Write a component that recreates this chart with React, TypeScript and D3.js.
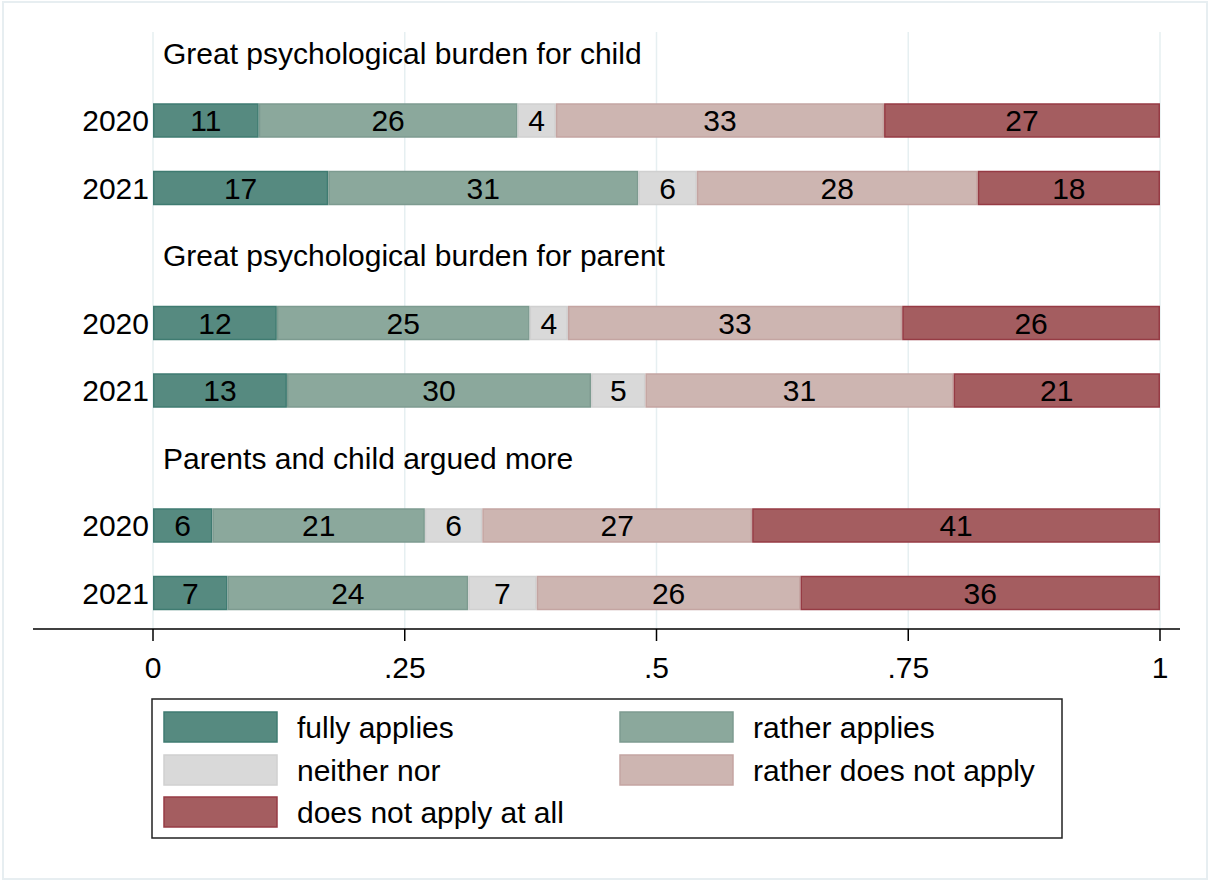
import React from "react";
import * as d3 from "d3";

const categories = ["fully applies", "rather applies", "neither nor", "rather does not apply", "does not apply at all"];
const fills = ["#568a80", "#8ba89c", "#d9d9d9", "#cdb5b1", "#a45d60"];
const strokes = ["#3f7b71", "#7d9b90", "#d0d0d0", "#c4a5a2", "#963b44"];

const groups = ["Great psychological burden for child", "Great psychological burden for parent", "Parents and child argued more"];
const years = ["2020", "2021"];

// percent shares per group, per year, per category
const childValues = [
  [10.5, 25.7, 3.8, 32.6, 27.4],
  [17.4, 30.8, 5.8, 27.9, 18.1],
];
const parentValues = [
  [12.3, 25.1, 3.8, 33.2, 25.6],
  [13.3, 30.2, 5.4, 30.6, 20.5],
];
const arguedValues = [
  [5.9, 21.1, 5.7, 26.8, 40.5],
  [7.4, 23.9, 6.8, 26.2, 35.7],
];
const groupValues = [childValues, parentValues, arguedValues];

const xTicks = [0, 0.25, 0.5, 0.75, 1];
const xTickLabels = ["0", ".25", ".5", ".75", "1"];

const FONT = "Arial, 'Liberation Sans', sans-serif";
const FS = 30;

export default function App() {
  const W = 1210, H = 882;
  const x = d3.scaleLinear().domain([0, 1]).range([153, 1160]);
  const slots: string[] = [];
  groups.forEach((g, gi) => {
    slots.push(`t${gi}`);
    years.forEach((yr) => slots.push(`r${gi}-${yr}`));
  });
  const y = d3.scalePoint<string>().domain(slots).range([53, 593]);
  const barH = 33;
  const plotTop = 32, axisY = 629;

  const rows: any[] = [];
  groupValues.forEach((gv, gi) => {
    gv.forEach((vals, yi) => {
      const cum = d3.cumsum(vals);
      const segs = vals.map((v, ci) => ({
        ci,
        v,
        x0: (cum[ci] - v) / 100,
        x1: cum[ci] / 100,
      }));
      rows.push({ key: `r${gi}-${years[yi]}`, year: years[yi], segs });
    });
  });

  const legendCols = [164, 620];
  const legendRowY = [727, 770, 812];

  return (
    <svg width={W} height={H} style={{ position: "absolute", left: 0, top: 0, background: "#fff" }} fontFamily={FONT}>
      <rect x={3} y={2} width={1204} height={877} fill="#fff" stroke="#e7eef1" strokeWidth={2} />
      {xTicks.map((t) => (
        <line key={`g${t}`} x1={x(t)} x2={x(t)} y1={plotTop} y2={axisY} stroke="#e6eff1" strokeWidth={1.5} />
      ))}
      {groups.map((g, gi) => (
        <text key={g} x={163} y={y(`t${gi}`)!} dy="0.36em" fontSize={FS} fill="#000">
          {g}
        </text>
      ))}
      {rows.map((r) => {
        const cy = y(r.key)!;
        return (
          <g key={r.key}>
            <text x={149} y={cy} dy="0.36em" textAnchor="end" fontSize={FS} fill="#000">
              {r.year}
            </text>
            {r.segs.map((s: any) => (
              <rect
                key={s.ci}
                x={x(s.x0) + 0.75}
                y={cy - barH / 2}
                width={Math.max(0, x(s.x1) - x(s.x0) - 1.5)}
                height={barH}
                fill={fills[s.ci]}
                stroke={strokes[s.ci]}
                strokeWidth={1.5}
              />
            ))}
            {r.segs.map((s: any) => (
              <text
                key={`l${s.ci}`}
                x={(x(s.x0) + x(s.x1)) / 2}
                y={cy}
                dy="0.36em"
                textAnchor="middle"
                fontSize={FS}
                fill="#000"
              >
                {Math.round(s.v)}
              </text>
            ))}
          </g>
        );
      })}
      <line x1={33} x2={1180} y1={axisY} y2={axisY} stroke="#000" strokeWidth={1.5} />
      {xTicks.map((t, i) => (
        <g key={`t${t}`}>
          <line x1={x(t)} x2={x(t)} y1={axisY} y2={axisY + 12} stroke="#000" strokeWidth={1.5} />
          <text x={x(t)} y={667} dy="0.36em" textAnchor="middle" fontSize={FS} fill="#000">
            {xTickLabels[i]}
          </text>
        </g>
      ))}
      <rect x={152} y={699} width={910} height={139} fill="#fff" stroke="#222" strokeWidth={1.5} />
      {categories.map((c, i) => {
        const col = i % 2;
        const row = Math.floor(i / 2);
        const sx = legendCols[col];
        const sy = legendRowY[row];
        return (
          <g key={c}>
            <rect x={sx} y={sy - 15} width={113} height={30} fill={fills[i]} stroke={strokes[i]} strokeWidth={1.5} />
            <text x={sx + 133} y={sy} dy="0.36em" fontSize={FS} fill="#000">
              {c}
            </text>
          </g>
        );
      })}
    </svg>
  );
}
